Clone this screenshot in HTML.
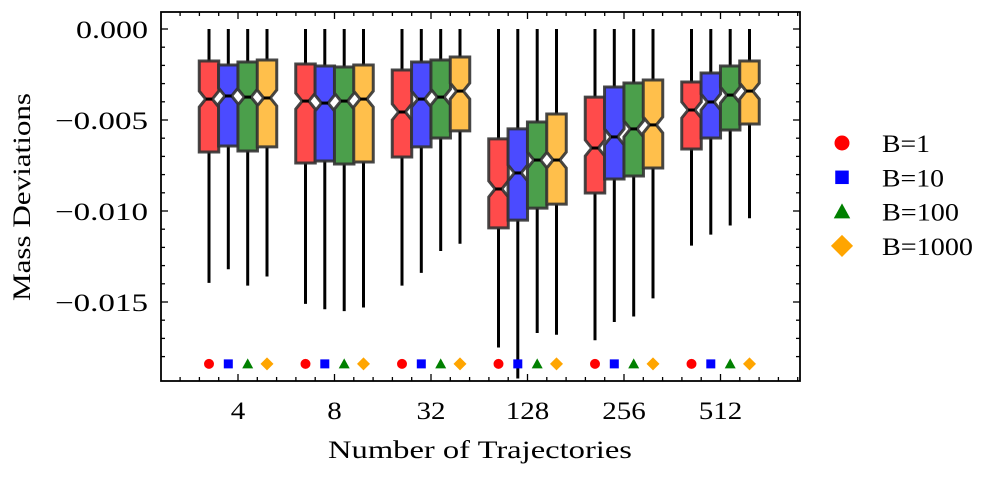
<!DOCTYPE html>
<html><head><meta charset="utf-8"><style>
body{margin:0;background:#fff}
text{font-family:"Liberation Serif","DejaVu Serif",serif;fill:#000}
</style></head><body>
<svg id="c" width="996" height="477" xmlns="http://www.w3.org/2000/svg"></svg>
<script>
const categories=["4","8","32","128","256","512"];
const seriesNames=["B=1","B=10","B=100","B=1000"];
const yTicks=[0,-0.005,-0.010,-0.015];
const yTickLabels=["0.000","\u22120.005","\u22120.010","\u22120.015"];
// [whiskerHigh, q3, median, q1, whiskerLow] per category per series
const b1=[[0,-0.00176,-0.00385,-0.00676,-0.01395],[0,-0.00192,-0.00396,-0.00736,-0.0151],[0,-0.00225,-0.00456,-0.00703,-0.0141],[0,-0.00604,-0.00879,-0.01093,-0.0175],[0,-0.00374,-0.00654,-0.00901,-0.0171],[0,-0.00291,-0.00445,-0.00659,-0.0119]];
const b10=[[0,-0.00198,-0.00368,-0.00643,-0.0132],[0,-0.00203,-0.00407,-0.00725,-0.0154],[0,-0.00181,-0.00385,-0.00648,-0.0134],[0,-0.00549,-0.00791,-0.0105,-0.0192],[0,-0.00319,-0.00593,-0.00824,-0.0161],[0,-0.00242,-0.00401,-0.00599,-0.0113]];
const b100=[[0,-0.00181,-0.00374,-0.0067,-0.0141],[0,-0.00209,-0.00396,-0.00742,-0.0155],[0,-0.0017,-0.00374,-0.00599,-0.0122],[0,-0.00511,-0.0072,-0.00984,-0.0167],[0,-0.00297,-0.00549,-0.00808,-0.0158],[0,-0.00203,-0.00363,-0.00555,-0.0108]];
const b1000=[[0,-0.0017,-0.00379,-0.00648,-0.0136],[0,-0.00198,-0.00385,-0.00731,-0.0153],[0,-0.00154,-0.00341,-0.0056,-0.0118],[0,-0.00467,-0.0072,-0.00962,-0.0168],[0,-0.0028,-0.00527,-0.00764,-0.0148],[0,-0.00176,-0.00341,-0.00522,-0.0104]];
const markerY=-0.0184;
const series=[b1,b10,b100,b1000];
const fills=["#ff4b4b","#4b4bff","#4b9f4b","#ffbf4b"];
const mcol=["#ff0000","#0000ff","#008000","#ffa500"];
const L=161,R=800,T=12,B=381;
const y=v=>29-v/0.005*91;
const xc=i=>238+i*96.5;
const off=[-29,-9.7,9.7,29];
const svg=document.getElementById('c');
const NS="http://www.w3.org/2000/svg";
function mk(t,a,p){const e=document.createElementNS(NS,t);for(const k in a)e.setAttribute(k,a[k]);(p||svg).appendChild(e);return e;}
const W=19.5,nh=8;
series.forEach((s,si)=>{s.forEach((d,ci)=>{
 const cx=xc(ci)+off[si];
 const g=mk('g',{});
 
 
 mk('line',{x1:cx,x2:cx,y1:y(d[0]),y2:y(d[1]),stroke:'#000','stroke-width':3},g);
 mk('line',{x1:cx,x2:cx,y1:y(d[3]),y2:y(d[4]),stroke:'#000','stroke-width':3},g);
 const h=W/2,nw=W*0.33,ym=y(d[2]),y3=y(d[1]),y1=y(d[3]);
 const pts=[[cx-h,y3],[cx+h,y3],[cx+h,ym-nh],[cx+h-nw,ym],[cx+h,ym+nh],[cx+h,y1],[cx-h,y1],[cx-h,ym+nh],[cx-h+nw,ym],[cx-h,ym-nh]];
 mk('polygon',{points:pts.map(p=>p.join(',')).join(' '),fill:fills[si],stroke:'#333','stroke-width':3,'stroke-opacity':0.9},g);
 mk('line',{x1:cx-h+nw,x2:cx+h-nw,y1:ym,y2:ym,stroke:'#000','stroke-width':3},g);
});});
function marker(si,cx,cy,s,p){
 const c=mcol[si];let e;
 if(si==0)e=mk('circle',{cx,cy,r:s*0.5,fill:c},p);
 else if(si==1)e=mk('rect',{x:cx-s*0.45,y:cy-s*0.45,width:s*0.9,height:s*0.9,fill:c},p);
 else if(si==2)e=mk('polygon',{points:`${cx},${cy-s*0.55} ${cx+s*0.55},${cy+s*0.45} ${cx-s*0.55},${cy+s*0.45}`,fill:c},p);
 else e=mk('polygon',{points:`${cx},${cy-s*0.65} ${cx+s*0.65},${cy} ${cx},${cy+s*0.65} ${cx-s*0.65},${cy}`,fill:c},p);
 return e;
}
series.forEach((s,si)=>{s.forEach((d,ci)=>{
 const e=marker(si,xc(ci)+off[si],y(markerY),10);
 
 
});});
const ax=mk('g',{});


mk('rect',{x:L,y:T,width:R-L,height:B-T,fill:'none',stroke:'#000','stroke-width':1.8},ax);
for(let v=0;v>=-0.019;v-=0.001){const yy=y(v);const maj=Math.abs(Math.round(v*1000)%5)==0;const l=maj?7:4;
 mk('line',{x1:L,x2:L+l,y1:yy,y2:yy,stroke:'#000','stroke-width':1.3},ax);
 mk('line',{x1:R,x2:R-l,y1:yy,y2:yy,stroke:'#000','stroke-width':1.3},ax);}
for(let i=-1;i<=6;i++){const c=xc(i);
 if(c>L&&c<R){mk('line',{x1:c,x2:c,y1:B,y2:B-7,stroke:'#000','stroke-width':1.3},ax);mk('line',{x1:c,x2:c,y1:T,y2:T+7,stroke:'#000','stroke-width':1.3},ax);}
 for(let k=1;k<5;k++){const m=c+k*96.5/5;if(m>L&&m<R){mk('line',{x1:m,x2:m,y1:B,y2:B-4,stroke:'#000','stroke-width':1.3},ax);mk('line',{x1:m,x2:m,y1:T,y2:T+4,stroke:'#000','stroke-width':1.3},ax);}}}
yTicks.forEach((v,i)=>{const t=mk('text',{x:148,y:y(v)+9,'text-anchor':'end','font-size':25,textLength:i==0?72:93,lengthAdjust:'spacingAndGlyphs'},ax);t.textContent=yTickLabels[i];
 });
categories.forEach((c,i)=>{const t=mk('text',{x:xc(i),y:419,'text-anchor':'middle','font-size':25,textLength:c.length*14.5,lengthAdjust:'spacingAndGlyphs'},ax);t.textContent=c;
 });
let t=mk('text',{x:480,y:458,'text-anchor':'middle','font-size':25,textLength:304,lengthAdjust:'spacingAndGlyphs'});t.textContent='Number of Trajectories';

t=mk('text',{x:0,y:0,'text-anchor':'middle','font-size':25,textLength:208,lengthAdjust:'spacingAndGlyphs',transform:'translate(30,197) rotate(-90)'});t.textContent='Mass Deviations';

const lw=[48,62,77,91];
seriesNames.forEach((n,i)=>{const g=mk('g',{});
 
 const cy=143+i*34.3;marker(i,842,cy,i==3?17:15,g);
 const tt=mk('text',{x:882,y:cy+9,'font-size':25,textLength:lw[i],lengthAdjust:'spacingAndGlyphs'},g);tt.textContent=n;});
</script>
</body></html>
